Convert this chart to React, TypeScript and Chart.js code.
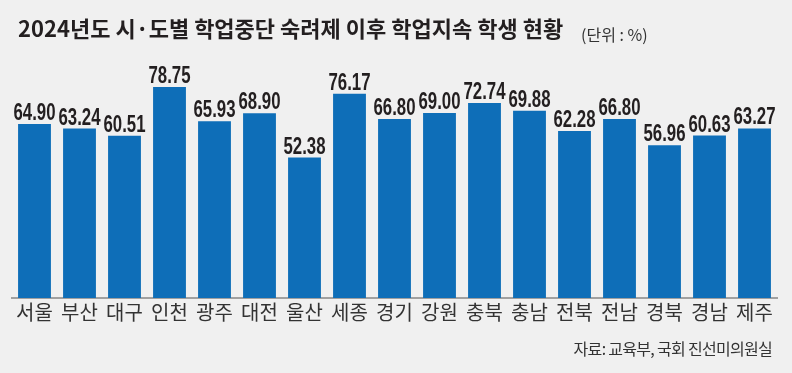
import React, { useEffect, useRef } from "react";
import { Chart, registerables } from "chart.js";

Chart.register(...registerables);

const titleText = "2024년도 시·도별 학업중단 숙려제 이후 학업지속 학생 현황";
const unitText = "(단위 : %)";
const sourceText = "자료: 교육부, 국회 진선미의원실";

const regions = [
  "서울", "부산", "대구", "인천", "광주", "대전", "울산", "세종", "경기",
  "강원", "충북", "충남", "전북", "전남", "경북", "경남", "제주",
];

const rates = [
  64.9, 63.24, 60.51, 78.75, 65.93, 68.9, 52.38, 76.17, 66.8,
  69.0, 72.74, 69.88, 62.28, 66.8, 56.96, 60.63, 63.27,
];

const CJK = '"Noto Sans CJK KR", "Noto Sans", sans-serif';

const decorPlugin = {
  id: "decor",
  afterDatasetsDraw(chart: any) {
    const ctx = chart.ctx as CanvasRenderingContext2D;
    const meta = chart.getDatasetMeta(0);
    ctx.save();
    ctx.fillStyle = "#231f20";
    ctx.textAlign = "center";
    ctx.textBaseline = "alphabetic";
    ctx.font = 'bold 24px "Liberation Sans", Arial, sans-serif';
    meta.data.forEach((bar: any, i: number) => {
      const v = rates[i];
      ctx.save();
      ctx.translate(bar.x, bar.y - 4);
      ctx.scale(0.7, 1);
      ctx.fillText(v.toFixed(2), 0, 0);
      ctx.restore();
    });
    ctx.restore();
  },
  afterDraw(chart: any) {
    const ctx = chart.ctx as any;
    ctx.save();
    ctx.textBaseline = "alphabetic";
    ctx.textAlign = "left";
    ctx.fillStyle = "#231f20";
    ctx.font = `bold 22px ${CJK}`;
    ctx.letterSpacing = "0px";
    ctx.fillText(titleText, 18, 37);
    ctx.fillStyle = "#333333";
    ctx.font = `16px ${CJK}`;
    ctx.fillText(unitText, 581, 41);
    ctx.textAlign = "right";
    ctx.letterSpacing = "-0.7px";
    ctx.font = `16px ${CJK}`;
    ctx.fillText(sourceText, 772, 355);
    ctx.restore();
  },
};

export default function App() {
  const ref = useRef<HTMLCanvasElement | null>(null);
  useEffect(() => {
    document.body.style.margin = "0";
    document.body.style.background = "#f0f0f0";
    const chart = new Chart(ref.current as HTMLCanvasElement, {
      type: "bar",
      data: {
        labels: regions,
        datasets: [
          {
            data: rates,
            backgroundColor: "#0e6eb8",
            barPercentage: 0.73,
            categoryPercentage: 1,
          },
        ],
      },
      options: {
        animation: false,
        responsive: false,
        layout: { padding: { top: 30, left: 12, right: 15, bottom: 47 } },
        plugins: { legend: { display: false }, tooltip: { enabled: false } },
        scales: {
          y: { display: false, min: 0, max: 100 },
          x: {
            grid: { display: false, drawTicks: false },
            border: { display: true, color: "#a0a0a0", width: 2 },
            ticks: {
              color: "#333333",
              font: { family: CJK, size: 20 },
              padding: 2,
            },
          },
        },
      },
      plugins: [decorPlugin],
    });
    return () => chart.destroy();
  }, []);
  return (
    <div style={{ width: 792, height: 373, background: "#f0f0f0" }}>
      <canvas ref={ref} width={792} height={373} />
    </div>
  );
}
